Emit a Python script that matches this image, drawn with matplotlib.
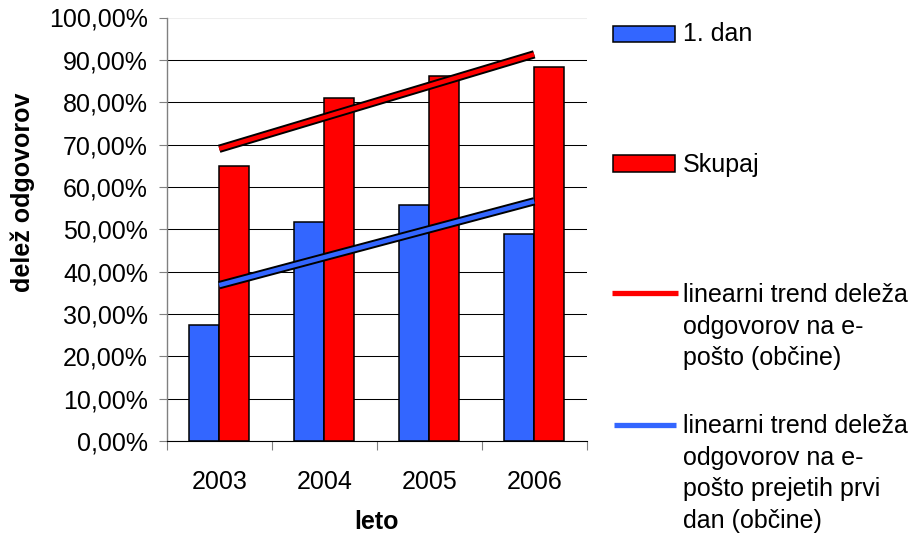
import numpy as np
import matplotlib.pyplot as plt
import matplotlib.patheffects as pe
from matplotlib.patches import Rectangle
from matplotlib.lines import Line2D

# Podatki
leta = ['2003', '2004', '2005', '2006']
prvi_dan = [0.274, 0.517, 0.558, 0.489]
skupaj = [0.650, 0.809, 0.863, 0.884]

# Linearna trenda (začetek 2003, konec 2006)
trend_leta = [0, 3]
trend_skupaj = [0.690, 0.913]
trend_prvi_dan = [0.368, 0.566]

modra = '#3366FF'
rdeca = '#FF0000'

plt.rcParams['font.family'] = ['Liberation Sans', 'DejaVu Sans']
fs = 18

W, H = 914, 535
fig = plt.figure(figsize=(W / 100, H / 100), dpi=100)
ax = fig.add_axes([166.7 / W, 1 - 441 / H, 420 / W, 423.5 / H])

x = np.arange(len(leta))
sirina = 0.285
ax.bar(x - sirina / 2, prvi_dan, sirina, color=modra, edgecolor='black', linewidth=1.1, zorder=2)
ax.bar(x + sirina / 2, skupaj, sirina, color=rdeca, edgecolor='black', linewidth=1.1, zorder=2)

# Trendni črti s črno obrobo
obroba = [pe.Stroke(linewidth=6, foreground='black', capstyle='butt'), pe.Normal()]
ax.plot(trend_leta, trend_skupaj, color=rdeca, lw=3.2, solid_capstyle='butt', path_effects=obroba, zorder=3)
ax.plot(trend_leta, trend_prvi_dan, color=modra, lw=3.2, solid_capstyle='butt', path_effects=obroba, zorder=3)

ax.set_xlim(-0.5, 3.5)
ax.set_ylim(0, 1)

# Os y
ax.set_yticks(np.arange(0, 1.01, 0.1))
ax.set_yticklabels([f'{v:.2f}'.replace('.', ',') + '%' for v in np.arange(0, 100.1, 10)], fontsize=fs)
ax.yaxis.grid(True, color='black', linewidth=0.75)
ax.set_axisbelow(True)
ax.get_ygridlines()[-1].set_color('#eeeeee')
ax.tick_params(axis='y', length=6, width=0.8, color='#808080', pad=7.5)

# Os x: oznake na sredini, kljukice na mejah
ax.set_xticks(np.arange(-0.5, 3.6, 1))
ax.set_xticklabels([])
ax.set_xticks(x, minor=True)
ax.set_xticklabels(leta, minor=True, fontsize=fs)
ax.tick_params(axis='x', which='major', length=6.5, width=0.8, color='#808080')
ax.tick_params(axis='x', which='minor', length=0, pad=21)

ax.spines['top'].set_visible(False)
ax.spines['right'].set_visible(False)
ax.spines['left'].set_color('#808080')
ax.spines['bottom'].set_color('black')
ax.spines['left'].set_linewidth(1)
ax.spines['bottom'].set_linewidth(0.8)

# Naslovi osi
fig.text(23 / W, 1 - 192 / H, 'delež odgovorov', rotation=90, fontsize=fs, fontweight='bold',
         ha='center', va='center')
fig.text(377 / W, 1 - 522 / H, 'leto', fontsize=fs, fontweight='bold', ha='center', va='center')


def px(xp, yp):
    return xp / W, 1 - yp / H


# Legenda
fig.add_artist(Rectangle(px(613, 42), 62 / W, 16 / H, facecolor=modra, edgecolor='black', lw=1.1,
                         transform=fig.transFigure))
fig.text(*px(683, 34), '1. dan', fontsize=fs, va='center')
fig.add_artist(Rectangle(px(613, 172), 62 / W, 17 / H, facecolor=rdeca, edgecolor='black', lw=1.1,
                         transform=fig.transFigure))
fig.text(*px(683, 165), 'Skupaj', fontsize=fs, va='center')

fig.add_artist(Line2D([612 / W, 678 / W], [1 - 293 / H] * 2, color=rdeca, lw=3.8,
                      solid_capstyle='butt', transform=fig.transFigure))
fig.text(*px(683, 283), 'linearni trend deleža\nodgovorov na e-\npošto (občine)',
         fontsize=fs, va='top', linespacing=1.4)
fig.add_artist(Line2D([614 / W, 676 / W], [1 - 425 / H] * 2, color=modra, lw=3.8,
                      solid_capstyle='butt', transform=fig.transFigure))
fig.text(*px(683, 414), 'linearni trend deleža\nodgovorov na e-\npošto prejetih prvi\ndan (občine)',
         fontsize=fs, va='top', linespacing=1.4)

fig.savefig('out.png', dpi=100)
